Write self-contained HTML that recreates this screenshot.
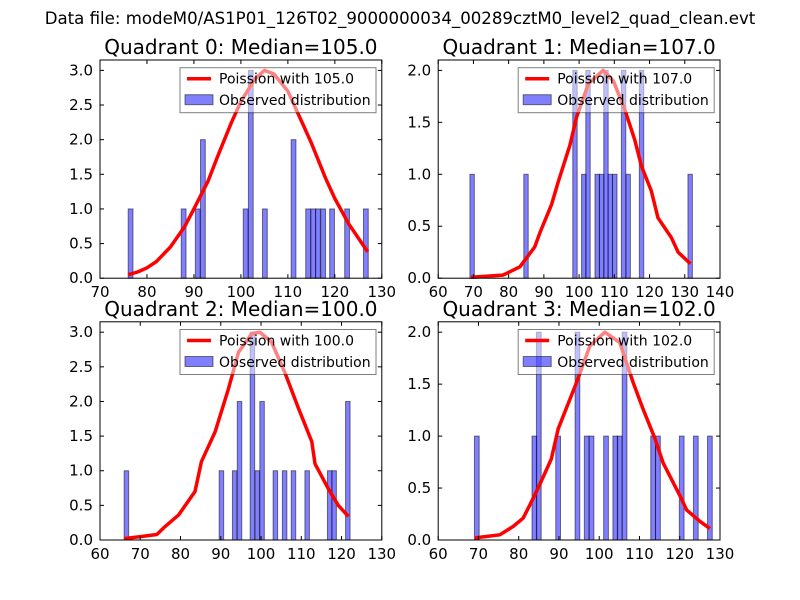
<!DOCTYPE html>
<html><head><meta charset="utf-8"><style>
body{margin:0;background:#fff}
svg{display:block;font-family:"DejaVu Sans","Liberation Sans",sans-serif}
</style></head><body>
<svg id="fig" width="800" height="600" viewBox="0 0 800 600">
<rect width="800" height="600" fill="#fff"/>
<text x="400" y="24" font-size="16.6" text-anchor="middle">Data file: modeM0/AS1P01_126T02_9000000034_00289cztM0_level2_quad_clean.evt</text>
</svg>
<script>
// Quadrant 0
const q0BarX = [76,87.3,90.3,91.4,100.5,101.6,104.6,110.7,113.8,114.9,115.9,117,118.9,122.1,126.1];
const q0BarY = [1,1,1,2,1,3,1,2,1,1,1,1,1,1,1];
const q0CurveX = [76,78,80,82,85,88,90,93,95,98,100,103,105,107,110,113,115,118,120,123,125,127];
const q0CurveY = [0.05,0.09,0.15,0.24,0.45,0.74,1.0,1.4,1.75,2.25,2.55,2.88,3.0,2.95,2.7,2.25,1.95,1.45,1.15,0.78,0.58,0.38];
const q0XTicks = [70,80,90,100,110,120,130];
const q0YTicks = [0,0.5,1,1.5,2,2.5,3];
// Quadrant 1
const q1BarX = [69,84.3,98.2,100.7,101.9,104.5,105.8,107,108.2,109.5,112,113.3,117.1,130.9];
const q1BarY = [1,1,2,1,2,1,1,2,1,1,2,1,2,1];
const q1CurveX = [69.3,78.4,83.2,87.4,88.9,92.2,94.1,97.4,99.3,102.6,106.8,109.7,113,115.8,117.7,120.5,122.4,126.2,128.1,131.6];
const q1CurveY = [0.01,0.03,0.11,0.3,0.44,0.71,0.93,1.28,1.55,1.87,2.0,1.9,1.62,1.33,1.08,0.84,0.58,0.39,0.25,0.14];
const q1XTicks = [60,70,80,90,100,110,120,130,140];
const q1YTicks = [0,0.5,1,1.5,2];
// Quadrant 2
const q2BarX = [66,89.6,92.9,94.1,97.3,98.5,99.7,103,105.3,107.5,110.9,116.5,117.6,121];
const q2BarY = [1,1,1,2,3,1,2,1,1,1,1,1,1,2];
const q2CurveX = [66,70.3,74.1,76.1,79.5,83.6,85.2,88.6,91.9,94.4,97.7,99.7,102.6,105.9,109.3,112.6,113.4,116.7,119.2,121.7];
const q2CurveY = [0.02,0.05,0.08,0.19,0.36,0.7,1.13,1.56,2.18,2.71,2.98,3.0,2.86,2.42,1.9,1.42,1.1,0.74,0.5,0.34];
const q2XTicks = [60,70,80,90,100,110,120,130];
const q2YTicks = [0,0.5,1,1.5,2,2.5,3];
// Quadrant 3
const q3BarX = [69,83.3,84.4,89.2,94,96.3,97.5,101.1,103.4,104.5,105.7,112.8,114,119.9,123.4,126.9];
const q3BarY = [1,1,2,1,2,1,1,1,1,1,2,1,1,1,1,1];
const q3CurveX = [69.1,75.3,78.6,81.1,82.8,85.2,88.1,89.8,94.4,97.7,101.4,105.1,108.4,110.9,113.8,115.9,120,121.7,125,127.5];
const q3CurveY = [0.02,0.05,0.13,0.21,0.34,0.53,0.78,1.07,1.52,1.87,2.0,1.9,1.52,1.26,0.98,0.74,0.43,0.29,0.18,0.11];
const q3XTicks = [60,70,80,90,100,110,120,130];
const q3YTicks = [0,0.5,1,1.5,2];

const panels = [
 {t:"Quadrant 0: Median=105.0", lg:"Poission with 105.0", x0:100,y0:60, xmin:70,xmax:130,ymax:3.15, bw:1.02, bx:q0BarX,by:q0BarY,cx:q0CurveX,cy:q0CurveY,xt:q0XTicks,yt:q0YTicks},
 {t:"Quadrant 1: Median=107.0", lg:"Poission with 107.0", x0:438.2,y0:60, xmin:60,xmax:140,ymax:2.1, bw:1.26, bx:q1BarX,by:q1BarY,cx:q1CurveX,cy:q1CurveY,xt:q1XTicks,yt:q1YTicks},
 {t:"Quadrant 2: Median=100.0", lg:"Poission with 100.0", x0:100,y0:321.8, xmin:60,xmax:130,ymax:3.15, bw:1.12, bx:q2BarX,by:q2BarY,cx:q2CurveX,cy:q2CurveY,xt:q2XTicks,yt:q2YTicks},
 {t:"Quadrant 3: Median=102.0", lg:"Poission with 102.0", x0:438.2,y0:321.8, xmin:60,xmax:130,ymax:2.1, bw:1.18, bx:q3BarX,by:q3BarY,cx:q3CurveX,cy:q3CurveY,xt:q3XTicks,yt:q3YTicks}
];
const NS="http://www.w3.org/2000/svg";
const fig=document.getElementById('fig');
function mk(tag,attrs,parent){const e=document.createElementNS(NS,tag);for(const k in attrs)e.setAttribute(k,attrs[k]);(parent||fig).appendChild(e);return e;}
const W=281.8,H=218.2;
panels.forEach((p,i)=>{
  const g=mk('g',{});
  
  
  const sx=v=>p.x0+(v-p.xmin)/(p.xmax-p.xmin)*W;
  const sy=v=>p.y0+H-v/p.ymax*H;
  const tt=mk('text',{x:p.x0+W/2,y:p.y0-6,'font-size':20,'text-anchor':'middle'},g);
  tt.textContent=p.t;
  
  
  p.bx.forEach((x,j)=>{
    const r=mk('rect',{x:sx(x),y:sy(p.by[j]),width:sx(x+p.bw)-sx(x),height:sy(0)-sy(p.by[j]),fill:'#0000ff','fill-opacity':0.5,stroke:'#000','stroke-opacity':0.5,'stroke-width':1},g);
    
    
  });
  const pts=p.cx.map((x,j)=>sx(x).toFixed(1)+','+sy(p.cy[j]).toFixed(1)).join(' ');
  const pl=mk('polyline',{points:pts,fill:'none',stroke:'#ff0000','stroke-width':3.5,'stroke-linejoin':'round'},g);
  
  
  const lg=mk('g',{},g);
  
  
  const lx=p.x0+80,ly=p.y0+7.7;
  mk('rect',{x:lx,y:ly,width:196,height:45,fill:'#fff','fill-opacity':0.5,stroke:'#000','stroke-opacity':0.5,'stroke-width':1},lg);
  mk('line',{x1:lx+7,x2:lx+31,y1:ly+11,y2:ly+11,stroke:'#ff0000','stroke-width':3.5},lg);
  const t1=mk('text',{x:lx+39,y:ly+16,'font-size':14},lg);t1.textContent=p.lg;
  
  
  mk('rect',{x:lx+5,y:ly+27,width:28,height:10,fill:'#0000ff','fill-opacity':0.5,stroke:'#000','stroke-opacity':0.5},lg);
  const t2=mk('text',{x:lx+39,y:ly+37.5,'font-size':14},lg);t2.textContent="Observed distribution";
  
  
  const fr=mk('rect',{x:p.x0,y:p.y0,width:W,height:H,fill:'none',stroke:'#000','stroke-width':1},g);
  
  
  p.xt.forEach(v=>{
    const x=sx(v);
    mk('line',{x1:x,x2:x,y1:p.y0+H,y2:p.y0+H-4,stroke:'#000'},g);
    mk('line',{x1:x,x2:x,y1:p.y0,y2:p.y0+4,stroke:'#000'},g);
    const t=mk('text',{x:x,y:p.y0+H+19,'font-size':15,'text-anchor':'middle'},g);
    t.textContent=v;
    
    
  });
  p.yt.forEach(v=>{
    const y=sy(v);
    mk('line',{x1:p.x0,x2:p.x0+4,y1:y,y2:y,stroke:'#000'},g);
    mk('line',{x1:p.x0+W,x2:p.x0+W-4,y1:y,y2:y,stroke:'#000'},g);
    const t=mk('text',{x:p.x0-7,y:y+5,'font-size':15,'text-anchor':'end'},g);
    t.textContent=v.toFixed(1);
    
    
  });
});
</script>
</body></html>
